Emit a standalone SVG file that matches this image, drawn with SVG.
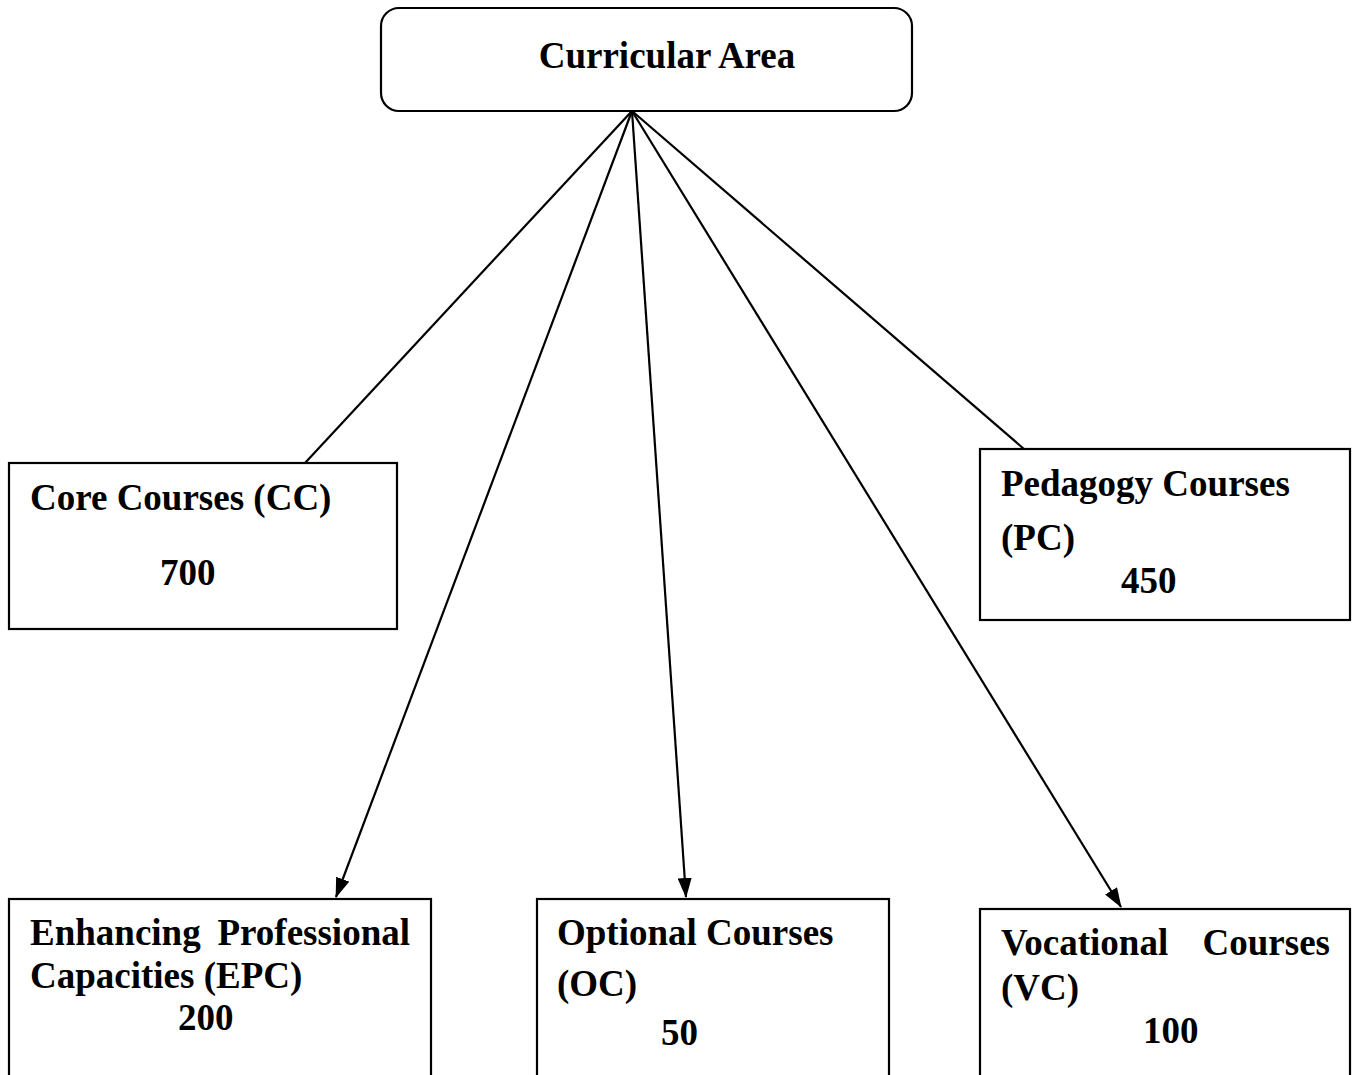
<svg xmlns="http://www.w3.org/2000/svg" width="1353" height="1075" viewBox="0 0 1353 1075">
<defs>
<marker id="arr" markerWidth="20" markerHeight="14" refX="19" refY="7" orient="auto" markerUnits="userSpaceOnUse" viewBox="0 0 20 14">
<path d="M0,0 L20,7 L0,14 Z" fill="#000"/>
</marker>
<style>
.box{fill:#fff;stroke:#000;stroke-width:2.2}
.t{font-family:"Liberation Serif","Times New Roman",serif;font-weight:bold;font-size:37px;fill:#000}
.c{stroke:#000;stroke-width:2.2;fill:none}
</style>
</defs>
<rect width="1353" height="1075" fill="#fff"/>
<g id="connectors">
<line class="c" x1="632" y1="111" x2="305" y2="463"/>
<line class="c" x1="632" y1="111" x2="1024" y2="449"/>
<path class="c" d="M632,111 L336,897" marker-end="url(#arr)"/>
<path class="c" d="M632,111 L686,897" marker-end="url(#arr)"/>
<path class="c" d="M632,111 L1121,907" marker-end="url(#arr)"/>
</g>
<g id="curricular-area">
<rect class="box" x="381" y="8" width="531" height="103" rx="18" ry="18"/>
<text class="t" x="667" y="68" text-anchor="middle">Curricular Area</text>
</g>
<g id="core-courses">
<rect class="box" x="9" y="463" width="388" height="166"/>
<text class="t" x="30" y="510">Core Courses (CC)</text>
<text class="t" x="160" y="585">700</text>
</g>
<g id="pedagogy-courses">
<rect class="box" x="980" y="449" width="370" height="171"/>
<text class="t" x="1001" y="496">Pedagogy Courses</text>
<text class="t" x="1001" y="550">(PC)</text>
<text class="t" x="1121" y="593">450</text>
</g>
<g id="epc">
<rect class="box" x="9" y="899" width="422" height="200"/>
<text class="t" x="30" y="945">Enhancing</text>
<text class="t" x="410" y="945" text-anchor="end">Professional</text>
<text class="t" x="30" y="988">Capacities (EPC)</text>
<text class="t" x="178" y="1030">200</text>
</g>
<g id="optional-courses">
<rect class="box" x="537" y="899" width="352" height="200"/>
<text class="t" x="557" y="945">Optional Courses</text>
<text class="t" x="557" y="996">(OC)</text>
<text class="t" x="661" y="1045">50</text>
</g>
<g id="vocational-courses">
<rect class="box" x="980" y="909" width="370" height="200"/>
<text class="t" x="1001" y="955">Vocational</text>
<text class="t" x="1330" y="955" text-anchor="end">Courses</text>
<text class="t" x="1001" y="1000">(VC)</text>
<text class="t" x="1143" y="1043">100</text>
</g>
</svg>
